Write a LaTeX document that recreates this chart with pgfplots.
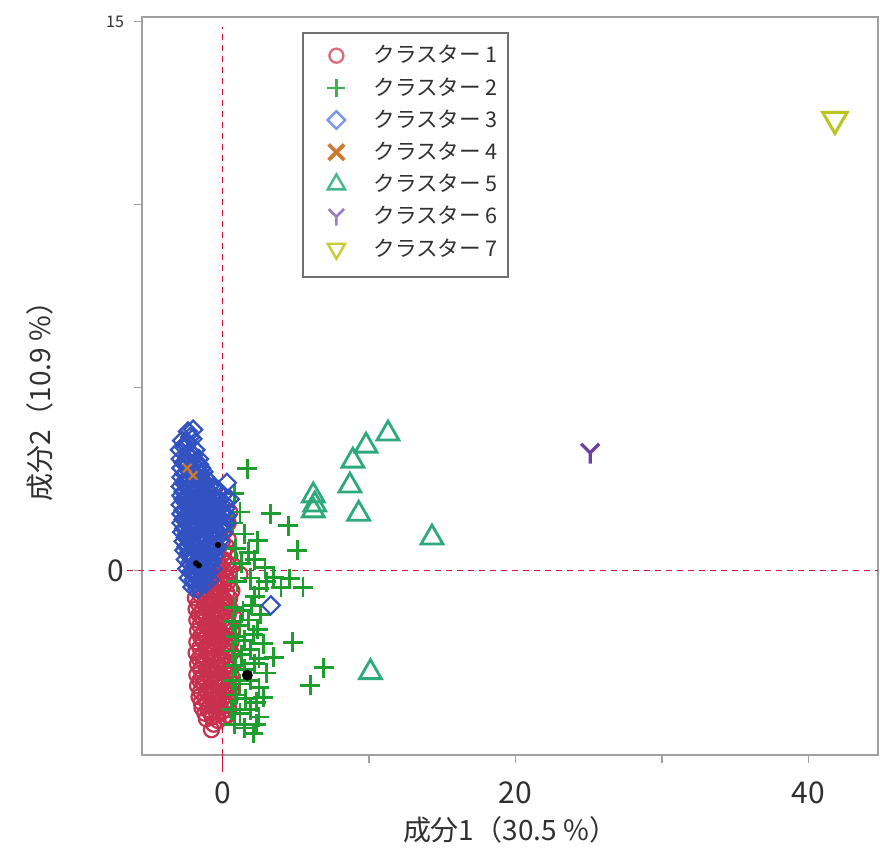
\documentclass[border=0pt]{standalone}
\usepackage{pgfplots}
\pgfplotsset{compat=1.18}
\usepackage{fontspec}
\setmainfont{Noto Sans CJK JP}
\definecolor{c1}{HTML}{C8304E}\definecolor{c1l}{HTML}{D8707E}
\definecolor{c2}{HTML}{1E9E2E}\definecolor{c2l}{HTML}{3DB04A}
\definecolor{c3}{HTML}{3352C2}\definecolor{c3l}{HTML}{7B98E2}
\definecolor{c4}{HTML}{CC7A32}
\definecolor{c5}{HTML}{2EAA7A}\definecolor{c5l}{HTML}{44B88A}
\definecolor{c6}{HTML}{7040A0}\definecolor{c6l}{HTML}{9A7CC4}
\definecolor{c7}{HTML}{BEC41E}\definecolor{c7l}{HTML}{C8CC38}
\definecolor{axgray}{HTML}{A0A0A0}
\definecolor{leggray}{HTML}{707070}
\definecolor{refred}{HTML}{D0103A}
\definecolor{txt}{HTML}{303030}
\pgfdeclareplotmark{Ymark}{%
 \pgfpathmoveto{\pgfqpoint{0pt}{-1.2\pgfplotmarksize}}%
 \pgfpathlineto{\pgfqpoint{0pt}{0pt}}%
 \pgfpathlineto{\pgfqpoint{-\pgfplotmarksize}{\pgfplotmarksize}}%
 \pgfpathmoveto{\pgfqpoint{0pt}{0pt}}%
 \pgfpathlineto{\pgfqpoint{\pgfplotmarksize}{\pgfplotmarksize}}%
 \pgfusepathqstroke}
\pgfplotsset{legmark/.style={legend image code/.code={\path[draw=none,fill=none] (0pt,-3pt) rectangle (17pt,3pt); \draw[##1, only marks] plot coordinates {(8.5pt,0pt)};}}}
\begin{document}
\begin{tikzpicture}
\useasboundingbox (-71pt,-48.5pt) rectangle (369pt,377.5pt);
\begin{axis}[
  scale only axis, width=368pt, height=369pt,
  xmin=-5.49, xmax=44.74, ymin=-5.04, ymax=15.13,
  axis line style={draw=axgray, line width=0.8pt},
  xtick={0,10,20,30,40}, xticklabels={0,,20,,40},
  ytick={0,5,10,15}, yticklabels={0,,,{\fontsize{8}{9}\selectfont 15}},
  tick pos=left,
  tick align=outside, major tick length=4pt,
  tick style={axgray, line width=0.6pt},
  ticklabel style={font=\fontsize{15}{17}\selectfont, text=txt},
  /pgf/number format/assume math mode=true,
  xticklabel style={anchor=north, yshift=-6pt},
  yticklabel style={anchor=east, xshift=-1.5pt},
  xlabel={成分1（30.5 \%）}, ylabel={成分2（10.9 \%）},
  label style={font=\fontsize{14}{16}\selectfont, text=txt},
  xlabel style={at={(axis description cs:0.5,-0.1016)}, anchor=center},
  ylabel style={at={(axis description cs:-0.1386,0.488)}, anchor=center},
  clip=false,
  legend style={at={(axis description cs:0.2405,0.9648)}, anchor=north west,
    draw=none, fill=none, inner xsep=0pt, inner ysep=0pt,
    font=\fontsize{10.8}{12}\selectfont, text=txt, row sep=3.8pt,
    nodes={inner sep=1pt},
    /tikz/every odd column/.append style={column sep=9pt}},
  legend cell align=left,
]
% legend frame
\draw[leggray, line width=1.2pt] (axis description cs:0.21875,0.6477) rectangle (axis description cs:0.4973,0.9783);
% reference lines
\addplot[refred, line width=0.8pt, dash pattern=on 3pt off 2.5pt, forget plot] coordinates {(0,-5.04) (0,14.85)};
\addplot[refred, line width=0.8pt, dash pattern=on 3pt off 2.5pt, forget plot] coordinates {(-6.51,0) (44.74,0)};
\addplot[refred, line width=0.9pt, forget plot] coordinates {(0,-5.04) (0,-5.5)};
% cluster 1
\addplot[only marks, mark=o, mark size=3.75pt, c1, line width=1.1pt, forget plot] coordinates {
(-0.75,-4.35)(-0.6,-4.2)
(-1.1,-4.05)(-0.7,-4.0)(-0.3,-4.1)(0.1,-4.0)
(-1.4,-3.75)(-1.0,-3.8)(-0.6,-3.7)(-0.2,-3.75)(0.2,-3.7)(0.45,-3.8)
(-1.6,-3.45)(-1.2,-3.5)(-0.8,-3.4)(-0.4,-3.45)(0.0,-3.5)(0.4,-3.4)(0.6,-3.3)
(-1.7,-3.15)(-1.3,-3.1)(-0.9,-3.2)(-0.5,-3.1)(-0.1,-3.15)(0.3,-3.2)(0.65,-3.1)
(-1.75,-2.85)(-1.35,-2.9)(-0.95,-2.8)(-0.55,-2.85)(-0.15,-2.9)(0.25,-2.8)(0.6,-2.85)
(-1.7,-2.55)(-1.3,-2.5)(-0.9,-2.6)(-0.5,-2.55)(-0.1,-2.5)(0.3,-2.6)(0.85,-2.5)
(-1.8,-2.25)(-1.4,-2.3)(-1.0,-2.2)(-0.6,-2.25)(-0.2,-2.3)(0.2,-2.2)(0.6,-2.25)
(-1.75,-1.95)(-1.35,-1.9)(-0.95,-2.0)(-0.55,-1.95)(-0.15,-1.9)(0.25,-2.0)(0.6,-1.95)
(-1.7,-1.65)(-1.3,-1.7)(-0.9,-1.6)(-0.5,-1.65)(-0.1,-1.7)(0.3,-1.6)(0.65,-1.65)
(-1.75,-1.35)(-1.35,-1.3)(-0.95,-1.4)(-0.55,-1.35)(-0.15,-1.3)(0.25,-1.4)(0.85,-1.3)
(-1.8,-1.05)(-1.4,-1.1)(-1.0,-1.0)(-0.6,-1.05)(-0.2,-1.1)(0.2,-1.0)(0.55,-1.05)
(-1.85,-0.75)(-1.45,-0.7)(-1.05,-0.8)(-0.65,-0.75)(-0.25,-0.7)(0.15,-0.8)(0.5,-0.75)
(-1.5,-0.45)(-1.1,-0.4)(-0.7,-0.5)(-0.3,-0.45)(0.1,-0.4)(0.65,-0.55)
(-1.0,-0.15)(-0.6,-0.1)(-0.2,-0.2)(0.2,-0.15)(1.2,-0.1)
(-0.5,0.15)(-0.1,0.1)(0.3,0.2)(0.7,0.15)
(-0.3,0.45)(0.1,0.5)(0.5,0.4)
(0.0,0.8)(0.4,0.85)(0.4,1.3)(0.2,1.1)
(-1.2,-3.9)(-0.8,-3.9)(-0.4,-3.9)(0.0,-3.85)(0.35,-3.95)
(-1.45,-3.6)(-1.05,-3.6)(-0.65,-3.55)(-0.25,-3.6)(0.15,-3.6)(0.5,-3.55)
(-1.5,-3.3)(-1.1,-3.3)(-0.7,-3.25)(-0.3,-3.3)(0.1,-3.3)(0.45,-3.25)
(-1.55,-3.0)(-1.15,-3.0)(-0.75,-2.95)(-0.35,-3.0)(0.05,-3.0)(0.45,-2.95)
(-1.5,-2.7)(-1.1,-2.7)(-0.7,-2.7)(-0.3,-2.65)(0.1,-2.7)(0.5,-2.7)
(-1.6,-2.4)(-1.2,-2.4)(-0.8,-2.4)(-0.4,-2.35)(0.0,-2.4)(0.4,-2.4)
(-1.55,-2.1)(-1.15,-2.1)(-0.75,-2.1)(-0.35,-2.05)(0.05,-2.1)(0.45,-2.1)
(-1.5,-1.8)(-1.1,-1.8)(-0.7,-1.8)(-0.3,-1.75)(0.1,-1.8)(0.5,-1.8)
(-1.55,-1.5)(-1.15,-1.5)(-0.75,-1.5)(-0.35,-1.45)(0.05,-1.5)(0.5,-1.5)
(-1.6,-1.2)(-1.2,-1.2)(-0.8,-1.2)(-0.4,-1.15)(0.0,-1.2)(0.4,-1.2)
(-1.65,-0.9)(-1.25,-0.9)(-0.85,-0.9)(-0.45,-0.85)(-0.05,-0.9)(0.35,-0.9)
(-1.3,-0.6)(-0.9,-0.6)(-0.5,-0.6)(-0.1,-0.6)(0.3,-0.6)
(-0.8,-0.3)(-0.4,-0.3)(0.0,-0.3)(0.4,-0.3)
(-0.3,0.0)(0.1,0.0)(0.5,0.0)
(0.1,0.3)(0.3,0.65)(0.2,1.5)(0.5,1.6)
};
% cluster 2
\addplot[only marks, mark=+, mark size=5pt, c2, line width=1.4pt, forget plot] coordinates {
(1.7,2.78)(3.3,1.55)(4.5,1.23)(5.1,0.55)(2.4,0.82)(2.9,0.08)(3.5,-0.19)(4.6,-0.22)
(5.5,-0.46)(4.0,-0.46)(4.8,-1.96)(3.5,-2.37)(6.9,-2.65)(6.0,-3.14)(2.1,-4.45)(2.8,-3.46)
(0.8,2.1)(1.2,1.6)(0.7,1.3)(1.5,1.0)(0.9,0.6)(1.8,0.5)(1.3,0.2)(2.2,0.3)
(1.0,-0.3)(1.9,-0.2)(2.5,-0.5)(3.0,-0.3)(2.2,-0.7)
(0.8,-1.0)(1.4,-1.1)(2.0,-0.95)(2.6,-1.2)
(0.7,-1.4)(1.2,-1.5)(1.8,-1.35)(2.4,-1.6)
(0.9,-1.8)(1.5,-1.9)(2.1,-1.75)(2.8,-2.0)
(0.7,-2.2)(1.3,-2.3)(1.9,-2.15)(2.5,-2.4)
(0.9,-2.6)(1.5,-2.7)(2.2,-2.55)(3.0,-2.8)
(0.7,-3.0)(1.2,-3.1)(1.9,-3.0)(2.5,-3.2)
(0.9,-3.4)(1.6,-3.5)(2.3,-3.6)
(0.6,-3.8)(1.2,-3.9)(1.9,-3.8)(2.5,-4.0)
(0.8,-4.2)(1.5,-4.3)(2.3,-4.2)
};
% cluster 3
\addplot[only marks, mark=square, mark options={rotate=45}, mark size=3.2pt, c3, line width=1.1pt, forget plot] coordinates {
(-2.35,3.8)(-2.0,3.85)
(-2.75,3.55)(-2.4,3.5)(-2.05,3.6)
(-2.9,3.3)(-2.55,3.35)(-2.2,3.25)(-1.85,3.3)
(-2.85,3.05)(-2.5,3.0)(-2.15,3.1)(-1.8,3.0)(-1.6,3.05)
(-2.8,2.8)(-2.45,2.85)(-2.1,2.75)(-1.75,2.8)(-1.45,2.8)
(-2.8,2.55)(-2.45,2.5)(-2.1,2.6)(-1.75,2.55)(-1.4,2.5)(-1.2,2.55)
(-2.85,2.3)(-2.5,2.35)(-2.15,2.25)(-1.8,2.3)(-1.45,2.35)(-1.1,2.25)(-0.9,2.3)
(-2.8,2.05)(-2.45,2.0)(-2.1,2.1)(-1.75,2.05)(-1.4,2.0)(-1.05,2.1)(-0.7,2.05)(-0.45,2.0)
(-2.85,1.8)(-2.5,1.85)(-2.15,1.75)(-1.8,1.8)(-1.45,1.85)(-1.1,1.75)(-0.75,1.8)(-0.4,1.85)
(-2.8,1.55)(-2.45,1.5)(-2.1,1.6)(-1.75,1.55)(-1.4,1.5)(-1.05,1.6)(-0.7,1.55)(-0.35,1.5)(-0.05,1.55)
(-2.8,1.3)(-2.45,1.35)(-2.1,1.25)(-1.75,1.3)(-1.4,1.35)(-1.05,1.25)(-0.7,1.3)(-0.35,1.35)(0.0,1.25)
(-2.75,1.05)(-2.4,1.0)(-2.05,1.1)(-1.7,1.05)(-1.35,1.0)(-1.0,1.1)(-0.65,1.05)(-0.3,1.0)(0.05,1.05)
(-2.65,0.8)(-2.3,0.85)(-1.95,0.75)(-1.6,0.8)(-1.25,0.85)(-0.9,0.75)(-0.55,0.8)(-0.2,0.8)
(-2.6,0.55)(-2.25,0.5)(-1.9,0.6)(-1.55,0.55)(-1.2,0.5)(-0.85,0.6)(-0.5,0.55)
(-2.5,0.3)(-2.15,0.35)(-1.8,0.25)(-1.45,0.3)(-1.1,0.35)(-0.75,0.25)
(-2.4,0.05)(-2.05,0.0)(-1.7,0.1)(-1.35,0.05)(-1.0,0.0)(-0.7,0.05)
(-2.3,-0.2)(-1.95,-0.25)(-1.6,-0.15)(-1.25,-0.2)(-0.9,-0.25)
(-2.05,-0.45)(-1.7,-0.5)(-1.35,-0.4)
(0.3,2.4)(0.5,1.95)(0.2,1.7)(3.3,-0.95)
(-2.2,3.65)(-2.55,3.45)(-2.35,3.15)(-2.0,3.15)(-2.65,2.95)(-2.3,2.9)(-1.95,2.9)(-1.6,2.9)
(-2.6,2.65)(-2.25,2.7)(-1.9,2.65)(-1.55,2.65)(-1.3,2.7)
(-2.65,2.4)(-2.3,2.45)(-1.95,2.4)(-1.6,2.45)(-1.25,2.4)(-0.95,2.45)(-0.6,2.25)(-0.3,2.2)
(-2.65,2.15)(-2.3,2.2)(-1.95,2.15)(-1.6,2.2)(-1.25,2.15)(-0.9,2.15)(0.0,2.05)
(-2.65,1.95)(-2.3,1.9)(-1.95,1.95)(-1.6,1.9)(-1.25,1.95)(-0.9,1.95)(-0.55,1.95)(-0.2,1.95)(0.1,1.85)
(-2.65,1.65)(-2.3,1.7)(-1.95,1.65)(-1.6,1.7)(-1.25,1.65)(-0.9,1.7)(-0.55,1.65)(-0.2,1.7)(0.3,1.5)
(-2.65,1.4)(-2.3,1.45)(-1.95,1.4)(-1.6,1.45)(-1.25,1.4)(-0.9,1.45)(-0.55,1.4)(-0.2,1.45)(0.25,1.3)
(-2.6,1.15)(-2.25,1.2)(-1.9,1.15)(-1.55,1.2)(-1.2,1.15)(-0.85,1.2)(-0.5,1.15)(-0.15,1.2)
(-2.5,0.9)(-2.15,0.95)(-1.8,0.9)(-1.45,0.95)(-1.1,0.9)(-0.75,0.95)(-0.4,0.9)
(-2.45,0.65)(-2.1,0.7)(-1.75,0.65)(-1.4,0.7)(-1.05,0.65)(-0.7,0.7)(-0.35,0.65)
(-2.35,0.45)(-2.0,0.4)(-1.65,0.45)(-1.3,0.4)(-0.95,0.45)(-0.6,0.4)
(-2.25,0.2)(-1.9,0.15)(-1.55,0.2)(-1.2,0.15)(-0.85,0.2)
(-2.15,-0.05)(-1.8,-0.1)(-1.45,-0.05)(-1.1,-0.1)
(-1.85,-0.35)(-1.5,-0.3)(-1.15,-0.35)
};
% cluster 4
\addplot[only marks, mark=x, mark size=3pt, c4, line width=1.1pt, forget plot] coordinates {(-2.4,2.8)(-2.0,2.6)};
% centroid dots
\addplot[only marks, mark=*, mark size=2.5pt, black, forget plot] coordinates {(1.7,-2.86)};
\addplot[only marks, mark=*, mark size=1.3pt, black, forget plot] coordinates {(-1.6,0.14)(-0.3,0.7)(-1.8,0.2)};
% cluster 5
\addplot[only marks, mark=triangle, mark size=6.3pt, c5, line width=1.4pt, forget plot] coordinates {
(11.3,3.74)(9.8,3.41)(8.9,3.0)(8.7,2.32)(6.2,2.05)(6.3,1.8)(6.2,1.64)(9.3,1.55)(14.3,0.9)(10.1,-2.78)};
% cluster 6
\addplot[only marks, mark=Ymark, mark size=4.5pt, c6, line width=1.6pt, forget plot] coordinates {(25.1,3.22)};
% cluster 7
\addplot[only marks, mark=triangle, mark options={rotate=180}, mark size=7pt, c7, line width=1.5pt, forget plot] coordinates {(41.8,12.33)};
% legend
\addlegendimage{legmark, mark=o, c1l, line width=1.2pt, mark size=3.5pt}
\addlegendentry{クラスター 1}
\addlegendimage{legmark, mark=+, c2l, line width=1.2pt, mark size=4.5pt}
\addlegendentry{クラスター 2}
\addlegendimage{legmark, mark=square, mark options={rotate=45}, c3l, line width=1.2pt, mark size=3.1pt}
\addlegendentry{クラスター 3}
\addlegendimage{legmark, mark=x, c4, line width=1.9pt, mark size=5.5pt}
\addlegendentry{クラスター 4}
\addlegendimage{legmark, mark=triangle, c5l, line width=1.2pt, mark size=5pt}
\addlegendentry{クラスター 5}
\addlegendimage{legmark, mark=Ymark, c6l, line width=1.3pt, mark size=3.8pt}
\addlegendentry{クラスター 6}
\addlegendimage{legmark, mark=triangle, mark options={rotate=180}, c7l, line width=1.2pt, mark size=5pt}
\addlegendentry{クラスター 7}
\end{axis}
\end{tikzpicture}
\end{document}
